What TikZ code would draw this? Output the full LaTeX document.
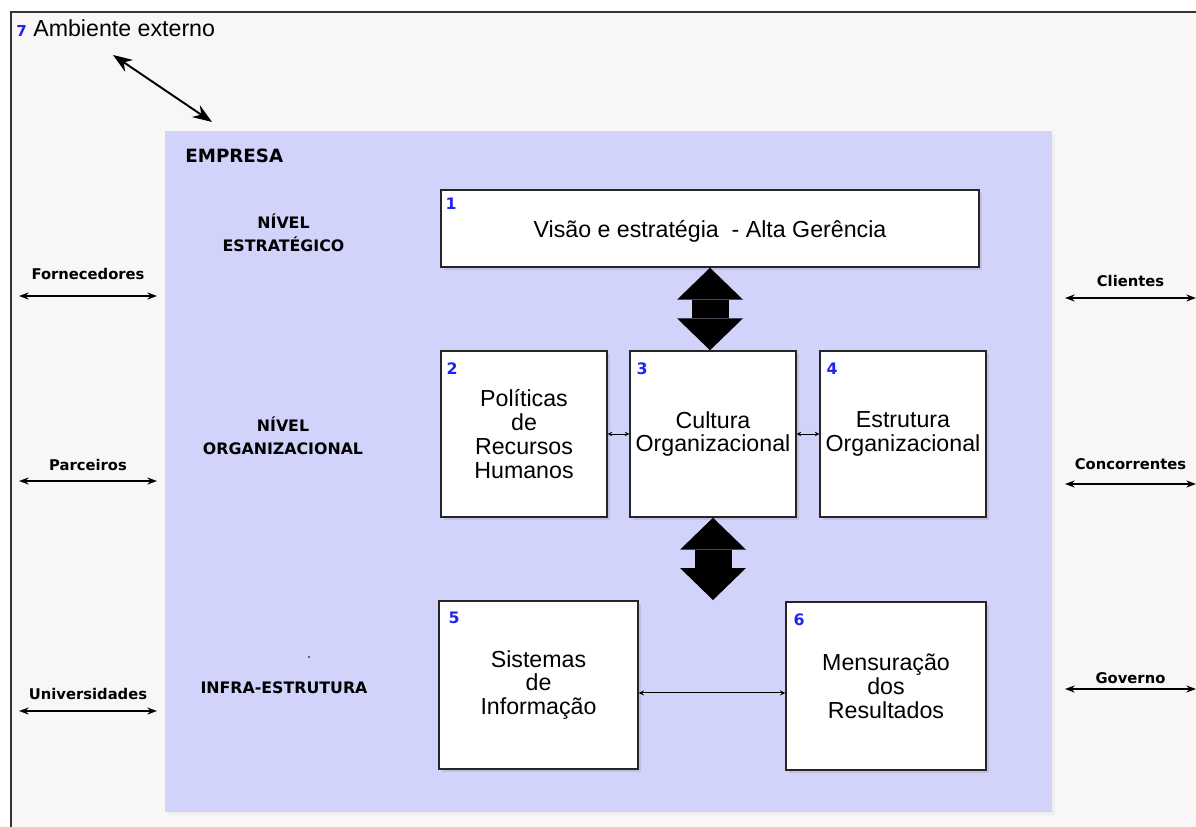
\documentclass[tikz,border=0pt]{standalone}
\usepackage{fontspec}
\setmainfont{Liberation Sans}
\newfontfamily\labfont{DejaVu Sans}
\usetikzlibrary{arrows.meta,positioning,shadows}
\definecolor{empresafill}{HTML}{D2D3FA}
\definecolor{ambfill}{HTML}{F8F6F7}
\definecolor{numblue}{HTML}{2424F0}
\definecolor{framegray}{HTML}{333333}

\begin{document}
\begin{tikzpicture}[
      x=0.02cm, y=-0.02cm,
      every node/.style={inner sep=0pt},
      txt/.style={font=\fontsize{13.2}{13.6}\selectfont, align=center},
      box/.style={draw=black!85, line width=0.85pt, fill=white, txt,
                  drop shadow={shadow xshift=1.6pt, shadow yshift=-1.6pt, opacity=0.22}},
      num/.style={font=\labfont\bfseries\fontsize{9}{10}\selectfont, text=numblue, anchor=north west},
      nivel/.style={font=\labfont\bfseries\fontsize{9}{13}\selectfont, align=center},
      side/.style={font=\labfont\bfseries\fontsize{8.4}{10}\selectfont},
      sidearr/.style={{Stealth[length=5.5pt,width=4pt]}-{Stealth[length=5.5pt,width=4pt]}, line width=0.8pt},
      ambarr/.style={{Stealth[length=11pt,width=8pt]}-{Stealth[length=11pt,width=8pt]}, line width=1.1pt},
      tinyarr/.style={{Stealth[length=2.5pt,width=2.5pt]}-{Stealth[length=2.5pt,width=2.5pt]}, line width=0.45pt},
      midarr/.style={{Stealth[length=3pt,width=3pt]}-{Stealth[length=3pt,width=3pt]}, line width=0.6pt},
      fatarr/.style={line width=0.74cm,
                     {Triangle[length=0.64cm,width=1.32cm,line width=0pt]}-{Triangle[length=0.64cm,width=1.32cm,line width=0pt]}}
  ]

    \useasboundingbox (0,0) rectangle (1196,827);

    % --- External environment ---
    \fill[ambfill] (11,12) rectangle (1196,827);
    \draw[framegray, line width=0.85pt] (11,827) -- (11,12) -- (1196,12);
    \node[txt, anchor=base west] (amb) at (16,37)
          {{\color{numblue}\labfont\bfseries\fontsize{8.6}{9}\selectfont 7} Ambiente externo};

    % --- Company block ---
    \node[fill=empresafill, minimum width=17.74cm, minimum height=13.62cm,
          drop shadow={shadow xshift=2pt, shadow yshift=-2pt, opacity=0.06}] (emp) at (608.5,471.5) {};
    \node[font=\labfont\bfseries\fontsize{10.4}{12}\selectfont, anchor=west] (emptit) at (185,156) {EMPRESA};

    \coordinate (ambA) at (113,55);
    \coordinate (ambB) at (212,122);
    \draw[ambarr] (ambA) -- (ambB);

    % levels
    \node[nivel] (estr) at (283.5,232.5) {NÍVEL\\ESTRATÉGICO};
    \node[nivel] (org) at (283,435.5) {NÍVEL\\ORGANIZACIONAL};
    \node[nivel] (infra) at (284,688) {INFRA-ESTRUTURA};
    \fill (309,657) circle (0.5pt);

    % --- Boxes ---
    \node[box, text depth=0pt, minimum width=10.76cm, minimum height=1.54cm] (b1) at (710,228.5)
          {Visão e estratégia~~- Alta Gerência};
    \node[box, minimum width=3.32cm, minimum height=3.32cm] (b2) at (524,434)
          {Políticas\\de\\Recursos\\Humanos};
    \node[box, minimum width=3.32cm, minimum height=3.32cm] (b3) at (713,434)
          {Cultura\\Organizacional};
    \node[box, minimum width=3.32cm, minimum height=3.32cm] (b4) at (903,434)
          {Estrutura\\Organizacional};
    \node[box, minimum width=3.98cm, minimum height=3.36cm] (b5) at (538.5,685)
          {Sistemas\\de\\Informação};
    \node[box, minimum width=4.0cm, minimum height=3.36cm] (b6) at (886,686)
          {Mensuração\\dos\\Resultados};

    \node[num] (n1) at ([shift={(5,8)}]b1.north west) {1};
    \node[num] (n2) at ([shift={(6,12)}]b2.north west) {2};
    \node[num] (n3) at ([shift={(7,12)}]b3.north west) {3};
    \node[num] (n4) at ([shift={(7,12)}]b4.north west) {4};
    \node[num] (n5) at ([shift={(10,11)}]b5.north west) {5};
    \node[num] (n6) at ([shift={(8,12)}]b6.north west) {6};

    % links between boxes
    \draw[tinyarr] (b2.east) -- (b3.west);
    \draw[tinyarr] (b3.east) -- (b4.west);
    \draw[midarr] ([yshift=-4.5pt]b5.east) -- ([yshift=-4.5pt]b5.east -| b6.west);

    \draw[fatarr] (b1.south) -- (b1.south |- b3.north);
    \coordinate (infraTop) at (713,600);
    \draw[fatarr] (b3.south) -- (infraTop);

    % --- Outside actors ---
    \foreach \nm/\txt/\xa/\xb/\ty/\ay in {
        forn/Fornecedores/19/157/274/296,
        parc/Parceiros/19/157/465/481,
        univ/Universidades/19/157/694/711,
        cli/Clientes/1065/1196/281/298,
        conc/Concorrentes/1065/1196/464/484,
        gov/Governo/1065/1196/678/689} {
      \node[side] (\nm) at ({(\xa+\xb)/2},\ty) {\txt};
      \coordinate (\nm-a) at (\xa,\ay);
      \coordinate (\nm-b) at (\xb,\ay);
      \draw[sidearr] (\nm-a) -- (\nm-b);
    }

  \end{tikzpicture}
\end{document}
